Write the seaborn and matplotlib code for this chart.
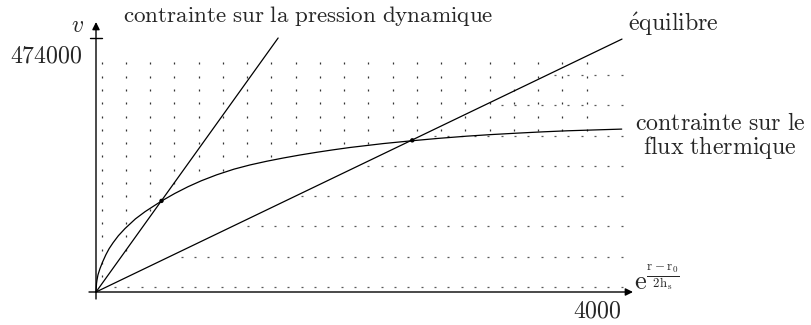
import numpy as np
import pandas as pd
import matplotlib
matplotlib.use("Agg")
import matplotlib.pyplot as plt
import seaborn as sns

# --- data -----------------------------------------------------------------
X_MAX = 4000          # abscissa end: e^{(r-r0)/(2 hs)}
V_MAX = 474000        # ordinate tick value

# dynamic-pressure constraint (straight line through the origin)
pression_x = [0, 1385]
pression_v = [0, 474000]

# equilibrium line
equilibre_x = [0, 4000]
equilibre_v = [0, 472000]

# heat-flux constraint curve
flux_x = [0, 4, 8, 15, 30, 50, 75, 100, 130, 170, 221, 300, 373, 430, 500,
          600, 700, 800, 918, 1050, 1171, 1300, 1425, 1550, 1678, 1800, 1932,
          2185, 2405, 2600, 2819, 3000, 3199, 3400, 3580, 3800, 3998]
flux_v = [0, 16000, 23000, 32000, 43500, 56000, 69500, 81000, 92000, 105000,
          118500, 136500, 149900, 159000, 170000, 184000, 196500, 207500,
          218700, 229300, 237100, 244100, 250100, 255600, 260700, 265200,
          269700, 277000, 282300, 286600, 290800, 293700, 296400, 298900,
          300800, 302500, 304000]

# intersection points
inter_x = [498, 2405]
inter_v = [170000, 283000]

# --- figure ---------------------------------------------------------------
sns.set_theme(style="white")
plt.rcParams["mathtext.fontset"] = "cm"
plt.rcParams["font.family"] = ["DejaVu Serif"]

W, H = 812, 325
fig = plt.figure(figsize=(W / 100, H / 100), dpi=100)
ax = fig.add_axes([0, 0, 1, 1])
ax.set_axis_off()

# pixel <-> data scale
ox, oy = 96.0, 292.0
sx = X_MAX / (622.0 - ox)     # data units per pixel (x)
sy = V_MAX / (oy - 38.0)      # data units per pixel (y)
ax.set_xlim(-ox * sx, (W - ox) * sx)
ax.set_ylim(-(H - oy) * sy, oy * sy)

def px_x(p):
    return (p - ox) * sx

def px_y(p):
    return (oy - p) * sy

k_p = pression_v[1] / pression_x[1]
k_e = equilibre_v[1] / equilibre_x[1]

def flux(x):
    return np.interp(x, flux_x, flux_v)

# --- hatching: vertical dotted columns above the constraints ---------------
col_x = px_x(101.7 + 24.25 * np.arange(21))
col_dots = []
for cx in col_x:
    lim = min(k_p * cx, flux(cx))
    for vy in px_y(63.3 + 13.3 * np.arange(40)):
        if vy > lim:
            col_dots.append((cx, vy))
col_dots = pd.DataFrame(col_dots, columns=["x", "v"])
ax.plot(col_dots["x"], col_dots["v"], linestyle="none", marker="|",
        markersize=1.5, markeredgewidth=0.9, color="0.2")

# --- hatching: horizontal dotted rows below the equilibrium line ---------
row_v = px_y(287.0 - 30.3 * np.arange(8))
row_dots = []
for rv in row_v:
    for rx in px_x(621.7 - 13.33 * np.arange(45)):
        if rx > rv / k_e + 45:
            row_dots.append((rx, rv))
row_dots = pd.DataFrame(row_dots, columns=["x", "v"])
ax.plot(row_dots["x"], row_dots["v"], linestyle="none", marker="_",
        markersize=1.5, markeredgewidth=0.9, color="0.35")

# --- curves ---------------------------------------------------------------
lw = 0.9
sns.lineplot(x=pression_x, y=pression_v, ax=ax, color="black", lw=lw)
sns.lineplot(x=equilibre_x, y=equilibre_v, ax=ax, color="black", lw=lw)
sns.lineplot(x=flux_x, y=flux_v, ax=ax, color="black", lw=lw, sort=False)
sns.scatterplot(x=inter_x, y=inter_v, ax=ax, color="black", s=10,
                edgecolor="none", zorder=5)

# --- axes with arrows -----------------------------------------------------
arrow = dict(arrowstyle="-|>", lw=1.0, color="black", mutation_scale=11,
             shrinkA=0, shrinkB=0)
ax.annotate("", xy=(px_x(633), 0), xytext=(px_x(89), 0), arrowprops=arrow)
ax.annotate("", xy=(0, px_y(22)), xytext=(0, px_y(299)), arrowprops=arrow)
ax.plot([px_x(90), px_x(102)], [V_MAX, V_MAX], color="black", lw=1.0)

# --- text -----------------------------------------------------------------
def cm(s):
    return r"$\mathrm{" + s.replace(" ", r"\ ") + "}$"

fs = 17.2
ax.text(px_x(84), px_y(25), r"$v$", fontsize=fs, ha="right", va="center")
ax.text(px_x(83), px_y(56), cm("474000"), fontsize=fs, ha="right", va="center")
ax.text(px_x(622), px_y(311), cm("4000"), fontsize=fs, ha="right", va="center")
ax.text(px_x(634), px_y(290),
        r"$\mathrm{e}^{\frac{\mathrm{r}-\mathrm{r}_0}{2\mathrm{h}_\mathrm{s}}}$",
        fontsize=19, ha="left", va="baseline")
ax.text(px_x(123), px_y(16), cm("contrainte sur la pression dynamique"),
        fontsize=16.6, ha="left", va="center")
ax.text(px_x(628), px_y(24), cm(r"\acute{e}quilibre"),
        fontsize=fs, ha="left", va="center")
ax.text(px_x(720), px_y(136),
        cm("contrainte sur le") + "\n" + cm("flux thermique"),
        fontsize=fs, ha="center", va="center", multialignment="center",
        linespacing=0.95)

fig.savefig("out.png", dpi=100, facecolor="white")
